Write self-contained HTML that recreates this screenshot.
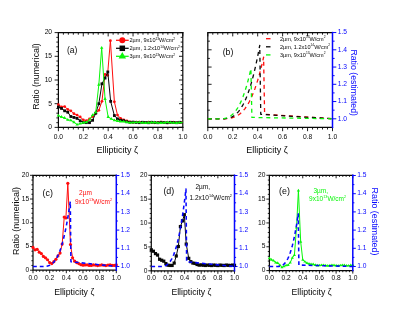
<!DOCTYPE html>
<html><head><meta charset="utf-8"><title>Figure</title>
<style>html,body{margin:0;padding:0;background:#fff;}body{width:415px;height:318px;overflow:hidden;font-family:"Liberation Sans",sans-serif;}svg{display:block;will-change:transform;}</style>
</head><body>
<svg width="415" height="318" viewBox="0 0 415 318" font-family="Liberation Sans, sans-serif">
<rect width="415" height="318" fill="#fff"/>
<g stroke="#080808" stroke-width="1.2" fill="none" stroke-linecap="square">
<path d="M58.4 127.4H182.8M58.4 32.6H182.8M58.4 32.6V127.4"/>
<path d="M182.8 32.6V127.4"/>
</g>
<path d="M58.40 127.4v3.8M58.40 32.6v3.8M63.38 127.4v2.1M63.38 32.6v2.1M68.35 127.4v2.1M68.35 32.6v2.1M73.33 127.4v2.1M73.33 32.6v2.1M78.30 127.4v2.1M78.30 32.6v2.1M83.28 127.4v3.8M83.28 32.6v3.8M88.26 127.4v2.1M88.26 32.6v2.1M93.23 127.4v2.1M93.23 32.6v2.1M98.21 127.4v2.1M98.21 32.6v2.1M103.18 127.4v2.1M103.18 32.6v2.1M108.16 127.4v3.8M108.16 32.6v3.8M113.14 127.4v2.1M113.14 32.6v2.1M118.11 127.4v2.1M118.11 32.6v2.1M123.09 127.4v2.1M123.09 32.6v2.1M128.06 127.4v2.1M128.06 32.6v2.1M133.04 127.4v3.8M133.04 32.6v3.8M138.02 127.4v2.1M138.02 32.6v2.1M142.99 127.4v2.1M142.99 32.6v2.1M147.97 127.4v2.1M147.97 32.6v2.1M152.94 127.4v2.1M152.94 32.6v2.1M157.92 127.4v3.8M157.92 32.6v3.8M162.90 127.4v2.1M162.90 32.6v2.1M167.87 127.4v2.1M167.87 32.6v2.1M172.85 127.4v2.1M172.85 32.6v2.1M177.82 127.4v2.1M177.82 32.6v2.1M182.80 127.4v3.8M182.80 32.6v3.8" stroke="#080808" stroke-width="0.9" fill="none"/>
<path d="M58.4 127.40h-3.8M182.8 127.40h-3.8M58.4 122.66h-2.1M182.8 122.66h-2.1M58.4 117.92h-2.1M182.8 117.92h-2.1M58.4 113.18h-2.1M182.8 113.18h-2.1M58.4 108.44h-2.1M182.8 108.44h-2.1M58.4 103.70h-3.8M182.8 103.70h-3.8M58.4 98.96h-2.1M182.8 98.96h-2.1M58.4 94.22h-2.1M182.8 94.22h-2.1M58.4 89.48h-2.1M182.8 89.48h-2.1M58.4 84.74h-2.1M182.8 84.74h-2.1M58.4 80.00h-3.8M182.8 80.00h-3.8M58.4 75.26h-2.1M182.8 75.26h-2.1M58.4 70.52h-2.1M182.8 70.52h-2.1M58.4 65.78h-2.1M182.8 65.78h-2.1M58.4 61.04h-2.1M182.8 61.04h-2.1M58.4 56.30h-3.8M182.8 56.30h-3.8M58.4 51.56h-2.1M182.8 51.56h-2.1M58.4 46.82h-2.1M182.8 46.82h-2.1M58.4 42.08h-2.1M182.8 42.08h-2.1M58.4 37.34h-2.1M182.8 37.34h-2.1M58.4 32.60h-3.8M182.8 32.60h-3.8" stroke="#080808" stroke-width="0.9" fill="none"/>
<text transform="translate(58.40,139.10) scale(0.92,1)" font-size="7.3" text-anchor="middle" fill="#080808">0.0</text>
<text transform="translate(83.28,139.10) scale(0.92,1)" font-size="7.3" text-anchor="middle" fill="#080808">0.2</text>
<text transform="translate(108.16,139.10) scale(0.92,1)" font-size="7.3" text-anchor="middle" fill="#080808">0.4</text>
<text transform="translate(133.04,139.10) scale(0.92,1)" font-size="7.3" text-anchor="middle" fill="#080808">0.6</text>
<text transform="translate(157.92,139.10) scale(0.92,1)" font-size="7.3" text-anchor="middle" fill="#080808">0.8</text>
<text transform="translate(182.80,139.10) scale(0.92,1)" font-size="7.3" text-anchor="middle" fill="#080808">1.0</text>
<text transform="translate(52.10,129.20) scale(0.92,1)" font-size="7.3" text-anchor="end" fill="#080808">0</text>
<text transform="translate(52.10,105.50) scale(0.92,1)" font-size="7.3" text-anchor="end" fill="#080808">5</text>
<text transform="translate(52.10,81.80) scale(0.92,1)" font-size="7.3" text-anchor="end" fill="#080808">10</text>
<text transform="translate(52.10,58.10) scale(0.92,1)" font-size="7.3" text-anchor="end" fill="#080808">15</text>
<text transform="translate(52.10,34.40) scale(0.92,1)" font-size="7.3" text-anchor="end" fill="#080808">20</text>
<clipPath id="ca"><rect x="55.4" y="32.6" width="127.0" height="97.80000000000001"/></clipPath><g clip-path="url(#ca)">
<path d="M58.40 104.65L61.51 107.02L64.62 106.54L67.73 109.39L70.84 110.81L73.95 113.65L77.06 115.08L80.17 116.97L83.28 119.82L86.39 120.76L89.50 118.87L92.61 116.50L95.72 113.18L98.83 110.34L101.94 101.33L105.05 74.31L107.54 75.26L110.40 40.66L114.38 101.80L117.49 115.08L120.60 118.39L123.71 119.82L126.82 120.80L129.93 121.86L133.04 122.41L136.15 122.10L139.26 122.08L142.37 122.62L145.48 122.61L148.59 122.13L151.70 122.29L154.81 122.74L157.92 122.47L161.03 122.09L164.14 122.46L167.25 122.75L170.36 122.30L173.47 122.13L176.58 122.62L179.69 122.66L182.80 122.17" stroke="#ff0c0c" stroke-width="1.0" fill="none" stroke-linejoin="round"/>
<circle cx="58.40" cy="104.65" r="1.4" fill="#ff0c0c"/>
<circle cx="61.51" cy="107.02" r="1.4" fill="#ff0c0c"/>
<circle cx="64.62" cy="106.54" r="1.4" fill="#ff0c0c"/>
<circle cx="67.73" cy="109.39" r="1.4" fill="#ff0c0c"/>
<circle cx="70.84" cy="110.81" r="1.4" fill="#ff0c0c"/>
<circle cx="73.95" cy="113.65" r="1.4" fill="#ff0c0c"/>
<circle cx="77.06" cy="115.08" r="1.4" fill="#ff0c0c"/>
<circle cx="80.17" cy="116.97" r="1.4" fill="#ff0c0c"/>
<circle cx="83.28" cy="119.82" r="1.4" fill="#ff0c0c"/>
<circle cx="86.39" cy="120.76" r="1.4" fill="#ff0c0c"/>
<circle cx="89.50" cy="118.87" r="1.4" fill="#ff0c0c"/>
<circle cx="92.61" cy="116.50" r="1.4" fill="#ff0c0c"/>
<circle cx="95.72" cy="113.18" r="1.4" fill="#ff0c0c"/>
<circle cx="98.83" cy="110.34" r="1.4" fill="#ff0c0c"/>
<circle cx="101.94" cy="101.33" r="1.4" fill="#ff0c0c"/>
<circle cx="105.05" cy="74.31" r="1.4" fill="#ff0c0c"/>
<circle cx="107.54" cy="75.26" r="1.4" fill="#ff0c0c"/>
<circle cx="110.40" cy="40.66" r="1.4" fill="#ff0c0c"/>
<circle cx="114.38" cy="101.80" r="1.4" fill="#ff0c0c"/>
<circle cx="117.49" cy="115.08" r="1.4" fill="#ff0c0c"/>
<circle cx="120.60" cy="118.39" r="1.4" fill="#ff0c0c"/>
<circle cx="123.71" cy="119.82" r="1.4" fill="#ff0c0c"/>
<circle cx="126.82" cy="120.80" r="1.4" fill="#ff0c0c"/>
<circle cx="129.93" cy="121.86" r="1.4" fill="#ff0c0c"/>
<circle cx="133.04" cy="122.41" r="1.4" fill="#ff0c0c"/>
<circle cx="136.15" cy="122.10" r="1.4" fill="#ff0c0c"/>
<circle cx="139.26" cy="122.08" r="1.4" fill="#ff0c0c"/>
<circle cx="142.37" cy="122.62" r="1.4" fill="#ff0c0c"/>
<circle cx="145.48" cy="122.61" r="1.4" fill="#ff0c0c"/>
<circle cx="148.59" cy="122.13" r="1.4" fill="#ff0c0c"/>
<circle cx="151.70" cy="122.29" r="1.4" fill="#ff0c0c"/>
<circle cx="154.81" cy="122.74" r="1.4" fill="#ff0c0c"/>
<circle cx="157.92" cy="122.47" r="1.4" fill="#ff0c0c"/>
<circle cx="161.03" cy="122.09" r="1.4" fill="#ff0c0c"/>
<circle cx="164.14" cy="122.46" r="1.4" fill="#ff0c0c"/>
<circle cx="167.25" cy="122.75" r="1.4" fill="#ff0c0c"/>
<circle cx="170.36" cy="122.30" r="1.4" fill="#ff0c0c"/>
<circle cx="173.47" cy="122.13" r="1.4" fill="#ff0c0c"/>
<circle cx="176.58" cy="122.62" r="1.4" fill="#ff0c0c"/>
<circle cx="179.69" cy="122.66" r="1.4" fill="#ff0c0c"/>
<circle cx="182.80" cy="122.17" r="1.4" fill="#ff0c0c"/>
<path d="M58.40 107.02L61.51 108.44L64.62 110.81L67.73 112.23L70.84 116.50L73.95 117.45L77.06 118.39L80.17 120.76L83.28 122.42L86.39 122.66L89.50 122.66L92.61 120.29L95.72 113.18L98.83 103.70L101.94 83.79L105.05 78.10L107.79 71.94L110.65 101.33L114.38 115.55L117.49 118.87L120.60 120.29L123.71 120.66L126.82 121.68L129.93 122.32L133.04 122.11L136.15 122.41L139.26 122.68L142.37 122.29L145.48 122.50L148.59 122.72L151.70 122.31L154.81 122.52L157.92 122.72L161.03 122.31L164.14 122.52L167.25 122.72L170.36 122.31L173.47 122.53L176.58 122.72L179.69 122.31L182.80 122.53" stroke="#080808" stroke-width="1.0" fill="none" stroke-linejoin="round"/>
<rect x="57.00" y="105.62" width="2.8" height="2.8" fill="#080808"/>
<rect x="60.11" y="107.04" width="2.8" height="2.8" fill="#080808"/>
<rect x="63.22" y="109.41" width="2.8" height="2.8" fill="#080808"/>
<rect x="66.33" y="110.83" width="2.8" height="2.8" fill="#080808"/>
<rect x="69.44" y="115.10" width="2.8" height="2.8" fill="#080808"/>
<rect x="72.55" y="116.05" width="2.8" height="2.8" fill="#080808"/>
<rect x="75.66" y="116.99" width="2.8" height="2.8" fill="#080808"/>
<rect x="78.77" y="119.36" width="2.8" height="2.8" fill="#080808"/>
<rect x="81.88" y="121.02" width="2.8" height="2.8" fill="#080808"/>
<rect x="84.99" y="121.26" width="2.8" height="2.8" fill="#080808"/>
<rect x="88.10" y="121.26" width="2.8" height="2.8" fill="#080808"/>
<rect x="91.21" y="118.89" width="2.8" height="2.8" fill="#080808"/>
<rect x="94.32" y="111.78" width="2.8" height="2.8" fill="#080808"/>
<rect x="97.43" y="102.30" width="2.8" height="2.8" fill="#080808"/>
<rect x="100.54" y="82.39" width="2.8" height="2.8" fill="#080808"/>
<rect x="103.65" y="76.70" width="2.8" height="2.8" fill="#080808"/>
<rect x="106.39" y="70.54" width="2.8" height="2.8" fill="#080808"/>
<rect x="109.25" y="99.93" width="2.8" height="2.8" fill="#080808"/>
<rect x="112.98" y="114.15" width="2.8" height="2.8" fill="#080808"/>
<rect x="116.09" y="117.47" width="2.8" height="2.8" fill="#080808"/>
<rect x="119.20" y="118.89" width="2.8" height="2.8" fill="#080808"/>
<rect x="122.31" y="119.26" width="2.8" height="2.8" fill="#080808"/>
<rect x="125.42" y="120.28" width="2.8" height="2.8" fill="#080808"/>
<rect x="128.53" y="120.92" width="2.8" height="2.8" fill="#080808"/>
<rect x="131.64" y="120.71" width="2.8" height="2.8" fill="#080808"/>
<rect x="134.75" y="121.01" width="2.8" height="2.8" fill="#080808"/>
<rect x="137.86" y="121.28" width="2.8" height="2.8" fill="#080808"/>
<rect x="140.97" y="120.89" width="2.8" height="2.8" fill="#080808"/>
<rect x="144.08" y="121.10" width="2.8" height="2.8" fill="#080808"/>
<rect x="147.19" y="121.32" width="2.8" height="2.8" fill="#080808"/>
<rect x="150.30" y="120.91" width="2.8" height="2.8" fill="#080808"/>
<rect x="153.41" y="121.12" width="2.8" height="2.8" fill="#080808"/>
<rect x="156.52" y="121.32" width="2.8" height="2.8" fill="#080808"/>
<rect x="159.63" y="120.91" width="2.8" height="2.8" fill="#080808"/>
<rect x="162.74" y="121.12" width="2.8" height="2.8" fill="#080808"/>
<rect x="165.85" y="121.32" width="2.8" height="2.8" fill="#080808"/>
<rect x="168.96" y="120.91" width="2.8" height="2.8" fill="#080808"/>
<rect x="172.07" y="121.13" width="2.8" height="2.8" fill="#080808"/>
<rect x="175.18" y="121.32" width="2.8" height="2.8" fill="#080808"/>
<rect x="178.29" y="120.91" width="2.8" height="2.8" fill="#080808"/>
<rect x="181.40" y="121.13" width="2.8" height="2.8" fill="#080808"/>
<path d="M58.40 115.55L61.51 116.97L64.62 117.92L67.73 119.82L70.84 120.29L73.95 122.19L77.06 124.56L80.17 123.61L83.28 122.66L86.39 122.19L89.50 119.82L92.61 115.08L95.72 112.23L98.83 84.74L101.69 47.77L105.05 98.96L108.16 116.97L111.27 118.87L114.38 120.29L117.49 121.00L120.60 121.48L123.71 121.55L126.82 122.24L129.93 122.69L133.04 122.63L136.15 122.36L139.26 122.39L142.37 122.74L145.48 122.93L148.59 122.70L151.70 122.40L154.81 122.47L157.92 122.82L161.03 122.93L164.14 122.65L167.25 122.38L170.36 122.53L173.47 122.87L176.58 122.90L179.69 122.58L182.80 122.38" stroke="#0af60a" stroke-width="1.0" fill="none" stroke-linejoin="round"/>
<path d="M58.40 113.66L60.08 116.53H56.72Z" fill="#0af60a"/>
<path d="M61.51 115.08L63.19 117.95H59.83Z" fill="#0af60a"/>
<path d="M64.62 116.03L66.30 118.90H62.94Z" fill="#0af60a"/>
<path d="M67.73 117.93L69.41 120.80H66.05Z" fill="#0af60a"/>
<path d="M70.84 118.40L72.52 121.27H69.16Z" fill="#0af60a"/>
<path d="M73.95 120.30L75.63 123.17H72.27Z" fill="#0af60a"/>
<path d="M77.06 122.67L78.74 125.54H75.38Z" fill="#0af60a"/>
<path d="M80.17 121.72L81.85 124.59H78.49Z" fill="#0af60a"/>
<path d="M83.28 120.77L84.96 123.64H81.60Z" fill="#0af60a"/>
<path d="M86.39 120.30L88.07 123.17H84.71Z" fill="#0af60a"/>
<path d="M89.50 117.93L91.18 120.80H87.82Z" fill="#0af60a"/>
<path d="M92.61 113.19L94.29 116.06H90.93Z" fill="#0af60a"/>
<path d="M95.72 110.34L97.40 113.21H94.04Z" fill="#0af60a"/>
<path d="M98.83 82.85L100.51 85.72H97.15Z" fill="#0af60a"/>
<path d="M101.69 45.88L103.37 48.75H100.01Z" fill="#0af60a"/>
<path d="M105.05 97.07L106.73 99.94H103.37Z" fill="#0af60a"/>
<path d="M108.16 115.08L109.84 117.95H106.48Z" fill="#0af60a"/>
<path d="M111.27 116.98L112.95 119.85H109.59Z" fill="#0af60a"/>
<path d="M114.38 118.40L116.06 121.27H112.70Z" fill="#0af60a"/>
<path d="M117.49 119.11L119.17 121.98H115.81Z" fill="#0af60a"/>
<path d="M120.60 119.59L122.28 122.46H118.92Z" fill="#0af60a"/>
<path d="M123.71 119.66L125.39 122.53H122.03Z" fill="#0af60a"/>
<path d="M126.82 120.35L128.50 123.22H125.14Z" fill="#0af60a"/>
<path d="M129.93 120.80L131.61 123.67H128.25Z" fill="#0af60a"/>
<path d="M133.04 120.74L134.72 123.61H131.36Z" fill="#0af60a"/>
<path d="M136.15 120.47L137.83 123.34H134.47Z" fill="#0af60a"/>
<path d="M139.26 120.50L140.94 123.37H137.58Z" fill="#0af60a"/>
<path d="M142.37 120.85L144.05 123.72H140.69Z" fill="#0af60a"/>
<path d="M145.48 121.04L147.16 123.91H143.80Z" fill="#0af60a"/>
<path d="M148.59 120.81L150.27 123.68H146.91Z" fill="#0af60a"/>
<path d="M151.70 120.51L153.38 123.38H150.02Z" fill="#0af60a"/>
<path d="M154.81 120.58L156.49 123.45H153.13Z" fill="#0af60a"/>
<path d="M157.92 120.93L159.60 123.80H156.24Z" fill="#0af60a"/>
<path d="M161.03 121.04L162.71 123.91H159.35Z" fill="#0af60a"/>
<path d="M164.14 120.76L165.82 123.63H162.46Z" fill="#0af60a"/>
<path d="M167.25 120.49L168.93 123.36H165.57Z" fill="#0af60a"/>
<path d="M170.36 120.64L172.04 123.51H168.68Z" fill="#0af60a"/>
<path d="M173.47 120.98L175.15 123.85H171.79Z" fill="#0af60a"/>
<path d="M176.58 121.01L178.26 123.88H174.90Z" fill="#0af60a"/>
<path d="M179.69 120.69L181.37 123.56H178.01Z" fill="#0af60a"/>
<path d="M182.80 120.49L184.48 123.36H181.12Z" fill="#0af60a"/>
</g>
<text x="67" y="53" font-size="8.5" fill="#080808">(a)</text>
<path d="M116 40.3H128.7" stroke="#ff0c0c" stroke-width="1.25"/>
<circle cx="122.30" cy="40.30" r="3.0" fill="#ff0c0c"/>
<text x="129.5" y="42.199999999999996" font-size="5.55" fill="#080808" text-anchor="start"><tspan>2µm, 9x10</tspan><tspan font-size="3.22" dy="-2.55">13</tspan><tspan dy="2.55" font-size="0.1">&#8203;</tspan><tspan>W/cm</tspan><tspan font-size="3.22" dy="-2.55">2</tspan><tspan dy="2.55" font-size="0.1">&#8203;</tspan></text>
<path d="M116 48.3H128.7" stroke="#080808" stroke-width="1.25"/>
<rect x="119.55" y="45.55" width="5.5" height="5.5" fill="#080808"/>
<text x="129.5" y="50.199999999999996" font-size="5.55" fill="#080808" text-anchor="start"><tspan>2µm, 1.2x10</tspan><tspan font-size="3.22" dy="-2.55">14</tspan><tspan dy="2.55" font-size="0.1">&#8203;</tspan><tspan>W/cm</tspan><tspan font-size="3.22" dy="-2.55">2</tspan><tspan dy="2.55" font-size="0.1">&#8203;</tspan></text>
<path d="M116 56.3H128.7" stroke="#0af60a" stroke-width="1.25"/>
<path d="M122.30 52.11L126.02 58.47H118.58Z" fill="#0af60a"/>
<text x="129.5" y="58.199999999999996" font-size="5.55" fill="#080808" text-anchor="start"><tspan>3µm, 9x10</tspan><tspan font-size="3.22" dy="-2.55">13</tspan><tspan dy="2.55" font-size="0.1">&#8203;</tspan><tspan>W/cm</tspan><tspan font-size="3.22" dy="-2.55">2</tspan><tspan dy="2.55" font-size="0.1">&#8203;</tspan></text>
<text x="117.2" y="152.9" font-size="9" text-anchor="middle" fill="#080808">Ellipticity ζ</text>
<text transform="translate(38.8,76.5) rotate(-90) scale(0.95,1)" font-size="9.2" text-anchor="middle" fill="#080808">Ratio (numerical)</text>
<g stroke="#080808" stroke-width="1.2" fill="none" stroke-linecap="square">
<path d="M207.8 127.4H332.5M207.8 32.6H332.5M207.8 32.6V127.4"/>
</g>
<path d="M207.80 127.4v3.8M207.80 32.6v3.8M212.79 127.4v2.1M212.79 32.6v2.1M217.78 127.4v2.1M217.78 32.6v2.1M222.76 127.4v2.1M222.76 32.6v2.1M227.75 127.4v2.1M227.75 32.6v2.1M232.74 127.4v3.8M232.74 32.6v3.8M237.73 127.4v2.1M237.73 32.6v2.1M242.72 127.4v2.1M242.72 32.6v2.1M247.70 127.4v2.1M247.70 32.6v2.1M252.69 127.4v2.1M252.69 32.6v2.1M257.68 127.4v3.8M257.68 32.6v3.8M262.67 127.4v2.1M262.67 32.6v2.1M267.66 127.4v2.1M267.66 32.6v2.1M272.64 127.4v2.1M272.64 32.6v2.1M277.63 127.4v2.1M277.63 32.6v2.1M282.62 127.4v3.8M282.62 32.6v3.8M287.61 127.4v2.1M287.61 32.6v2.1M292.60 127.4v2.1M292.60 32.6v2.1M297.58 127.4v2.1M297.58 32.6v2.1M302.57 127.4v2.1M302.57 32.6v2.1M307.56 127.4v3.8M307.56 32.6v3.8M312.55 127.4v2.1M312.55 32.6v2.1M317.54 127.4v2.1M317.54 32.6v2.1M322.52 127.4v2.1M322.52 32.6v2.1M327.51 127.4v2.1M327.51 32.6v2.1M332.50 127.4v3.8M332.50 32.6v3.8" stroke="#080808" stroke-width="0.9" fill="none"/>
<path d="M207.8 118.80h3.8M207.8 110.17h2.1M207.8 101.55h3.8M207.8 92.92h2.1M207.8 84.30h3.8M207.8 75.67h2.1M207.8 67.05h3.8M207.8 58.42h2.1M207.8 49.80h3.8M207.8 41.17h2.1M207.8 32.55h3.8" stroke="#080808" stroke-width="0.9" fill="none"/>
<text transform="translate(207.80,139.10) scale(0.92,1)" font-size="7.3" text-anchor="middle" fill="#080808">0.0</text>
<text transform="translate(232.74,139.10) scale(0.92,1)" font-size="7.3" text-anchor="middle" fill="#080808">0.2</text>
<text transform="translate(257.68,139.10) scale(0.92,1)" font-size="7.3" text-anchor="middle" fill="#080808">0.4</text>
<text transform="translate(282.62,139.10) scale(0.92,1)" font-size="7.3" text-anchor="middle" fill="#080808">0.6</text>
<text transform="translate(307.56,139.10) scale(0.92,1)" font-size="7.3" text-anchor="middle" fill="#080808">0.8</text>
<text transform="translate(332.50,139.10) scale(0.92,1)" font-size="7.3" text-anchor="middle" fill="#080808">1.0</text>
<path d="M332.5 118.80h3.8M332.5 110.17h2.1M332.5 101.55h3.8M332.5 92.92h2.1M332.5 84.30h3.8M332.5 75.67h2.1M332.5 67.05h3.8M332.5 58.42h2.1M332.5 49.80h3.8M332.5 41.17h2.1M332.5 32.55h3.8" stroke="#0606ff" stroke-width="1" fill="none"/>
<text transform="translate(337.70,120.60) scale(0.92,1)" font-size="7.3" fill="#0606ff">1.0</text>
<text transform="translate(337.70,103.35) scale(0.92,1)" font-size="7.3" fill="#0606ff">1.1</text>
<text transform="translate(337.70,86.10) scale(0.92,1)" font-size="7.3" fill="#0606ff">1.2</text>
<text transform="translate(337.70,68.85) scale(0.92,1)" font-size="7.3" fill="#0606ff">1.3</text>
<text transform="translate(337.70,51.60) scale(0.92,1)" font-size="7.3" fill="#0606ff">1.4</text>
<text transform="translate(337.70,34.35) scale(0.92,1)" font-size="7.3" fill="#0606ff">1.5</text>
<path d="M207.80 118.80L220.27 118.80L221.71 118.80L223.16 118.79L224.60 118.76L226.05 118.70L227.49 118.60L228.94 118.44L230.38 118.22L231.83 117.90L233.27 117.49L234.71 116.97L236.16 116.32L237.60 115.52L239.05 114.56L240.49 113.43L241.94 112.10L243.38 110.56L244.83 108.80L246.27 106.79L247.71 104.52L249.16 101.97L250.60 99.13L252.05 95.97L253.49 92.49L254.94 88.65L256.38 84.44L257.83 79.84L259.27 74.84L260.71 69.42L262.16 63.55L263.60 57.22L264.60 114.31L332.50 118.80" stroke="#ff0c0c" stroke-width="1.3" fill="none" stroke-linejoin="round" stroke-dasharray="4 3.7"/>
<path d="M207.80 118.80L220.27 118.80L221.59 118.80L222.90 118.78L224.22 118.73L225.53 118.63L226.85 118.46L228.17 118.21L229.48 117.87L230.80 117.41L232.11 116.82L233.43 116.08L234.75 115.18L236.06 114.10L237.38 112.82L238.69 111.33L240.01 109.61L241.33 107.65L242.64 105.43L243.96 102.93L245.27 100.13L246.59 97.03L247.91 93.59L249.22 89.82L250.54 85.69L251.85 81.18L253.17 76.27L254.49 70.96L255.80 65.23L257.12 59.05L258.43 52.42L259.75 45.32L260.75 114.31L332.50 118.80" stroke="#080808" stroke-width="1.3" fill="none" stroke-linejoin="round" stroke-dasharray="4 3.7"/>
<path d="M207.80 118.80L217.78 118.80L218.88 118.80L219.98 118.79L221.09 118.75L222.19 118.68L223.30 118.57L224.40 118.40L225.50 118.16L226.61 117.85L227.71 117.45L228.82 116.95L229.92 116.33L231.02 115.60L232.13 114.73L233.23 113.72L234.34 112.55L235.44 111.21L236.54 109.70L237.65 107.99L238.75 106.09L239.86 103.98L240.96 101.64L242.06 99.07L243.17 96.26L244.27 93.19L245.38 89.85L246.48 86.24L247.58 82.33L248.69 78.13L249.79 73.61L250.90 68.78L251.89 117.42L332.50 118.80" stroke="#0af60a" stroke-width="1.3" fill="none" stroke-linejoin="round" stroke-dasharray="4 3.7"/>
<path d="M332.5 32.6V127.4" stroke="#0606ff" stroke-width="1.5" fill="none" stroke-linecap="square"/>
<text x="222.7" y="55.3" font-size="8.7" fill="#080808">(b)</text>
<path d="M266 38.7H270.5" stroke="#ff0c0c" stroke-width="1.3"/>
<text x="279.9" y="40.6" font-size="5.55" fill="#080808" text-anchor="start"><tspan>2µm, 9x10</tspan><tspan font-size="3.22" dy="-2.55">13</tspan><tspan dy="2.55" font-size="0.1">&#8203;</tspan><tspan>W/cm</tspan><tspan font-size="3.22" dy="-2.55">2</tspan><tspan dy="2.55" font-size="0.1">&#8203;</tspan></text>
<path d="M266 46.800000000000004H270.5" stroke="#080808" stroke-width="1.3"/>
<text x="279.9" y="48.7" font-size="5.55" fill="#080808" text-anchor="start"><tspan>2µm, 1.2x10</tspan><tspan font-size="3.22" dy="-2.55">14</tspan><tspan dy="2.55" font-size="0.1">&#8203;</tspan><tspan>W/cm</tspan><tspan font-size="3.22" dy="-2.55">2</tspan><tspan dy="2.55" font-size="0.1">&#8203;</tspan></text>
<path d="M266 54.900000000000006H270.5" stroke="#0af60a" stroke-width="1.3"/>
<text x="279.9" y="56.800000000000004" font-size="5.55" fill="#080808" text-anchor="start"><tspan>3µm, 9x10</tspan><tspan font-size="3.22" dy="-2.55">13</tspan><tspan dy="2.55" font-size="0.1">&#8203;</tspan><tspan>W/cm</tspan><tspan font-size="3.22" dy="-2.55">2</tspan><tspan dy="2.55" font-size="0.1">&#8203;</tspan></text>
<text x="267" y="152.9" font-size="9" text-anchor="middle" fill="#080808">Ellipticity ζ</text>
<text transform="translate(351.3,82.7) rotate(90) scale(0.95,1)" font-size="9.2" text-anchor="middle" fill="#0606ff">Ratio (estimated)</text>
<g stroke="#080808" stroke-width="1.2" fill="none" stroke-linecap="square">
<path d="M33.0 270.2H116.3M33.0 175.3H116.3M33.0 175.3V270.2"/>
</g>
<path d="M33.00 270.2v3.0M33.00 175.3v3.0M36.33 270.2v1.6M36.33 175.3v1.6M39.66 270.2v1.6M39.66 175.3v1.6M43.00 270.2v1.6M43.00 175.3v1.6M46.33 270.2v1.6M46.33 175.3v1.6M49.66 270.2v3.0M49.66 175.3v3.0M52.99 270.2v1.6M52.99 175.3v1.6M56.32 270.2v1.6M56.32 175.3v1.6M59.66 270.2v1.6M59.66 175.3v1.6M62.99 270.2v1.6M62.99 175.3v1.6M66.32 270.2v3.0M66.32 175.3v3.0M69.65 270.2v1.6M69.65 175.3v1.6M72.98 270.2v1.6M72.98 175.3v1.6M76.32 270.2v1.6M76.32 175.3v1.6M79.65 270.2v1.6M79.65 175.3v1.6M82.98 270.2v3.0M82.98 175.3v3.0M86.31 270.2v1.6M86.31 175.3v1.6M89.64 270.2v1.6M89.64 175.3v1.6M92.98 270.2v1.6M92.98 175.3v1.6M96.31 270.2v1.6M96.31 175.3v1.6M99.64 270.2v3.0M99.64 175.3v3.0M102.97 270.2v1.6M102.97 175.3v1.6M106.30 270.2v1.6M106.30 175.3v1.6M109.64 270.2v1.6M109.64 175.3v1.6M112.97 270.2v1.6M112.97 175.3v1.6M116.30 270.2v3.0M116.30 175.3v3.0" stroke="#080808" stroke-width="0.9" fill="none"/>
<path d="M33.0 270.20h-3.0M33.0 265.45h-1.6M33.0 260.71h-1.6M33.0 255.97h-1.6M33.0 251.22h-1.6M33.0 246.47h-3.0M33.0 241.73h-1.6M33.0 236.99h-1.6M33.0 232.24h-1.6M33.0 227.50h-1.6M33.0 222.75h-3.0M33.0 218.00h-1.6M33.0 213.26h-1.6M33.0 208.51h-1.6M33.0 203.77h-1.6M33.0 199.03h-3.0M33.0 194.28h-1.6M33.0 189.53h-1.6M33.0 184.79h-1.6M33.0 180.05h-1.6M33.0 175.30h-3.0" stroke="#080808" stroke-width="0.9" fill="none"/>
<text transform="translate(33.00,280.40) scale(0.9,1)" font-size="7.4" text-anchor="middle" fill="#080808">0.0</text>
<text transform="translate(49.66,280.40) scale(0.9,1)" font-size="7.4" text-anchor="middle" fill="#080808">0.2</text>
<text transform="translate(66.32,280.40) scale(0.9,1)" font-size="7.4" text-anchor="middle" fill="#080808">0.4</text>
<text transform="translate(82.98,280.40) scale(0.9,1)" font-size="7.4" text-anchor="middle" fill="#080808">0.6</text>
<text transform="translate(99.64,280.40) scale(0.9,1)" font-size="7.4" text-anchor="middle" fill="#080808">0.8</text>
<text transform="translate(116.30,280.40) scale(0.9,1)" font-size="7.4" text-anchor="middle" fill="#080808">1.0</text>
<text transform="translate(29.10,271.90) scale(0.9,1)" font-size="7.4" text-anchor="end" fill="#080808">0</text>
<text transform="translate(29.10,248.17) scale(0.9,1)" font-size="7.4" text-anchor="end" fill="#080808">5</text>
<text transform="translate(29.10,224.45) scale(0.9,1)" font-size="7.4" text-anchor="end" fill="#080808">10</text>
<text transform="translate(29.10,200.72) scale(0.9,1)" font-size="7.4" text-anchor="end" fill="#080808">15</text>
<text transform="translate(29.10,177.00) scale(0.9,1)" font-size="7.4" text-anchor="end" fill="#080808">20</text>
<path d="M116.3 266.50h3.0M116.3 257.40h1.6M116.3 248.30h3.0M116.3 239.20h1.6M116.3 230.10h3.0M116.3 221.00h1.6M116.3 211.90h3.0M116.3 202.80h1.6M116.3 193.70h3.0M116.3 184.60h1.6M116.3 175.50h3.0" stroke="#0606ff" stroke-width="1" fill="none"/>
<text transform="translate(120.70,268.20) scale(0.9,1)" font-size="7.4" fill="#0606ff">1.0</text>
<text transform="translate(120.70,250.00) scale(0.9,1)" font-size="7.4" fill="#0606ff">1.1</text>
<text transform="translate(120.70,231.80) scale(0.9,1)" font-size="7.4" fill="#0606ff">1.2</text>
<text transform="translate(120.70,213.60) scale(0.9,1)" font-size="7.4" fill="#0606ff">1.3</text>
<text transform="translate(120.70,195.40) scale(0.9,1)" font-size="7.4" fill="#0606ff">1.4</text>
<text transform="translate(120.70,177.20) scale(0.9,1)" font-size="7.4" fill="#0606ff">1.5</text>
<path d="M33.00 247.42L35.08 249.80L37.16 249.32L39.25 252.17L41.33 253.59L43.41 256.44L45.49 257.86L47.58 259.76L49.66 262.61L51.74 263.56L53.83 261.66L55.91 259.29L57.99 255.97L60.07 253.12L62.16 244.10L64.24 217.06L65.90 218.00L67.82 183.37L70.48 244.58L72.57 257.86L74.65 261.18L76.73 262.61L78.81 263.59L80.90 264.66L82.98 265.21L85.06 264.89L87.15 264.87L89.23 265.41L91.31 265.40L93.39 264.92L95.47 265.08L97.56 265.53L99.64 265.27L101.72 264.89L103.80 265.25L105.89 265.54L107.97 265.10L110.05 264.93L112.13 265.41L114.22 265.46L116.30 264.96" stroke="#ff0c0c" stroke-width="1.0" fill="none" stroke-linejoin="round"/>
<circle cx="33.00" cy="247.42" r="1.6" fill="#ff0c0c"/>
<circle cx="35.08" cy="249.80" r="1.6" fill="#ff0c0c"/>
<circle cx="37.16" cy="249.32" r="1.6" fill="#ff0c0c"/>
<circle cx="39.25" cy="252.17" r="1.6" fill="#ff0c0c"/>
<circle cx="41.33" cy="253.59" r="1.6" fill="#ff0c0c"/>
<circle cx="43.41" cy="256.44" r="1.6" fill="#ff0c0c"/>
<circle cx="45.49" cy="257.86" r="1.6" fill="#ff0c0c"/>
<circle cx="47.58" cy="259.76" r="1.6" fill="#ff0c0c"/>
<circle cx="49.66" cy="262.61" r="1.6" fill="#ff0c0c"/>
<circle cx="51.74" cy="263.56" r="1.6" fill="#ff0c0c"/>
<circle cx="53.83" cy="261.66" r="1.6" fill="#ff0c0c"/>
<circle cx="55.91" cy="259.29" r="1.6" fill="#ff0c0c"/>
<circle cx="57.99" cy="255.97" r="1.6" fill="#ff0c0c"/>
<circle cx="60.07" cy="253.12" r="1.6" fill="#ff0c0c"/>
<circle cx="62.16" cy="244.10" r="1.6" fill="#ff0c0c"/>
<circle cx="64.24" cy="217.06" r="1.6" fill="#ff0c0c"/>
<circle cx="65.90" cy="218.00" r="1.6" fill="#ff0c0c"/>
<circle cx="67.82" cy="183.37" r="1.6" fill="#ff0c0c"/>
<circle cx="70.48" cy="244.58" r="1.6" fill="#ff0c0c"/>
<circle cx="72.57" cy="257.86" r="1.6" fill="#ff0c0c"/>
<circle cx="74.65" cy="261.18" r="1.6" fill="#ff0c0c"/>
<circle cx="76.73" cy="262.61" r="1.6" fill="#ff0c0c"/>
<circle cx="78.81" cy="263.59" r="1.6" fill="#ff0c0c"/>
<circle cx="80.90" cy="264.66" r="1.6" fill="#ff0c0c"/>
<circle cx="82.98" cy="265.21" r="1.6" fill="#ff0c0c"/>
<circle cx="85.06" cy="264.89" r="1.6" fill="#ff0c0c"/>
<circle cx="87.15" cy="264.87" r="1.6" fill="#ff0c0c"/>
<circle cx="89.23" cy="265.41" r="1.6" fill="#ff0c0c"/>
<circle cx="91.31" cy="265.40" r="1.6" fill="#ff0c0c"/>
<circle cx="93.39" cy="264.92" r="1.6" fill="#ff0c0c"/>
<circle cx="95.47" cy="265.08" r="1.6" fill="#ff0c0c"/>
<circle cx="97.56" cy="265.53" r="1.6" fill="#ff0c0c"/>
<circle cx="99.64" cy="265.27" r="1.6" fill="#ff0c0c"/>
<circle cx="101.72" cy="264.89" r="1.6" fill="#ff0c0c"/>
<circle cx="103.80" cy="265.25" r="1.6" fill="#ff0c0c"/>
<circle cx="105.89" cy="265.54" r="1.6" fill="#ff0c0c"/>
<circle cx="107.97" cy="265.10" r="1.6" fill="#ff0c0c"/>
<circle cx="110.05" cy="264.93" r="1.6" fill="#ff0c0c"/>
<circle cx="112.13" cy="265.41" r="1.6" fill="#ff0c0c"/>
<circle cx="114.22" cy="265.46" r="1.6" fill="#ff0c0c"/>
<circle cx="116.30" cy="264.96" r="1.6" fill="#ff0c0c"/>
<path d="M33.00 266.50L41.33 266.50L42.29 266.50L43.26 266.49L44.22 266.46L45.19 266.40L46.15 266.29L47.12 266.12L48.08 265.88L49.05 265.55L50.01 265.12L50.98 264.57L51.94 263.88L52.91 263.04L53.87 262.03L54.84 260.83L55.80 259.43L56.77 257.81L57.73 255.95L58.70 253.83L59.66 251.44L60.63 248.75L61.59 245.75L62.56 242.42L63.52 238.74L64.49 234.69L65.45 230.25L66.42 225.40L67.38 220.12L68.35 214.40L69.31 208.21L70.28 201.53L70.94 261.77L116.30 266.50" stroke="#0606ff" stroke-width="1.55" fill="none" stroke-linejoin="round" stroke-dasharray="3.8 3"/>
<path d="M116.3 175.3V270.2" stroke="#0606ff" stroke-width="1.5" fill="none" stroke-linecap="square"/>
<text x="42.6" y="196.4" font-size="8.9" fill="#080808">(c)</text>
<text x="85.5" y="194.6" font-size="6.5" text-anchor="middle" fill="#ff0c0c">2µm</text>
<text x="93.5" y="204.3" font-size="6.5" fill="#ff0c0c" text-anchor="middle"><tspan>9x10</tspan><tspan font-size="3.77" dy="-2.99">13</tspan><tspan dy="2.99" font-size="0.1">&#8203;</tspan><tspan>W/cm</tspan><tspan font-size="3.77" dy="-2.99">2</tspan><tspan dy="2.99" font-size="0.1">&#8203;</tspan></text>
<text x="74.2" y="294.6" font-size="8.7" text-anchor="middle" fill="#080808">Ellipticity ζ</text>
<g stroke="#080808" stroke-width="1.2" fill="none" stroke-linecap="square">
<path d="M151.3 270.8H234.5M151.3 175.3H234.5M151.3 175.3V270.8"/>
</g>
<path d="M151.30 270.8v3.0M151.30 175.3v3.0M154.63 270.8v1.6M154.63 175.3v1.6M157.96 270.8v1.6M157.96 175.3v1.6M161.28 270.8v1.6M161.28 175.3v1.6M164.61 270.8v1.6M164.61 175.3v1.6M167.94 270.8v3.0M167.94 175.3v3.0M171.27 270.8v1.6M171.27 175.3v1.6M174.60 270.8v1.6M174.60 175.3v1.6M177.92 270.8v1.6M177.92 175.3v1.6M181.25 270.8v1.6M181.25 175.3v1.6M184.58 270.8v3.0M184.58 175.3v3.0M187.91 270.8v1.6M187.91 175.3v1.6M191.24 270.8v1.6M191.24 175.3v1.6M194.56 270.8v1.6M194.56 175.3v1.6M197.89 270.8v1.6M197.89 175.3v1.6M201.22 270.8v3.0M201.22 175.3v3.0M204.55 270.8v1.6M204.55 175.3v1.6M207.88 270.8v1.6M207.88 175.3v1.6M211.20 270.8v1.6M211.20 175.3v1.6M214.53 270.8v1.6M214.53 175.3v1.6M217.86 270.8v3.0M217.86 175.3v3.0M221.19 270.8v1.6M221.19 175.3v1.6M224.52 270.8v1.6M224.52 175.3v1.6M227.84 270.8v1.6M227.84 175.3v1.6M231.17 270.8v1.6M231.17 175.3v1.6M234.50 270.8v3.0M234.50 175.3v3.0" stroke="#080808" stroke-width="0.9" fill="none"/>
<path d="M151.3 270.80h-3.0M151.3 266.03h-1.6M151.3 261.25h-1.6M151.3 256.48h-1.6M151.3 251.70h-1.6M151.3 246.93h-3.0M151.3 242.15h-1.6M151.3 237.38h-1.6M151.3 232.60h-1.6M151.3 227.83h-1.6M151.3 223.05h-3.0M151.3 218.28h-1.6M151.3 213.50h-1.6M151.3 208.73h-1.6M151.3 203.95h-1.6M151.3 199.18h-3.0M151.3 194.40h-1.6M151.3 189.62h-1.6M151.3 184.85h-1.6M151.3 180.08h-1.6M151.3 175.30h-3.0" stroke="#080808" stroke-width="0.9" fill="none"/>
<text transform="translate(151.30,280.40) scale(0.9,1)" font-size="7.4" text-anchor="middle" fill="#080808">0.0</text>
<text transform="translate(167.94,280.40) scale(0.9,1)" font-size="7.4" text-anchor="middle" fill="#080808">0.2</text>
<text transform="translate(184.58,280.40) scale(0.9,1)" font-size="7.4" text-anchor="middle" fill="#080808">0.4</text>
<text transform="translate(201.22,280.40) scale(0.9,1)" font-size="7.4" text-anchor="middle" fill="#080808">0.6</text>
<text transform="translate(217.86,280.40) scale(0.9,1)" font-size="7.4" text-anchor="middle" fill="#080808">0.8</text>
<text transform="translate(234.50,280.40) scale(0.9,1)" font-size="7.4" text-anchor="middle" fill="#080808">1.0</text>
<text transform="translate(147.40,272.50) scale(0.9,1)" font-size="7.4" text-anchor="end" fill="#080808">0</text>
<text transform="translate(147.40,248.62) scale(0.9,1)" font-size="7.4" text-anchor="end" fill="#080808">5</text>
<text transform="translate(147.40,224.75) scale(0.9,1)" font-size="7.4" text-anchor="end" fill="#080808">10</text>
<text transform="translate(147.40,200.88) scale(0.9,1)" font-size="7.4" text-anchor="end" fill="#080808">15</text>
<text transform="translate(147.40,177.00) scale(0.9,1)" font-size="7.4" text-anchor="end" fill="#080808">20</text>
<path d="M234.5 266.50h3.0M234.5 257.40h1.6M234.5 248.30h3.0M234.5 239.20h1.6M234.5 230.10h3.0M234.5 221.00h1.6M234.5 211.90h3.0M234.5 202.80h1.6M234.5 193.70h3.0M234.5 184.60h1.6M234.5 175.50h3.0" stroke="#0606ff" stroke-width="1" fill="none"/>
<text transform="translate(238.90,268.20) scale(0.9,1)" font-size="7.4" fill="#0606ff">1.0</text>
<text transform="translate(238.90,250.00) scale(0.9,1)" font-size="7.4" fill="#0606ff">1.1</text>
<text transform="translate(238.90,231.80) scale(0.9,1)" font-size="7.4" fill="#0606ff">1.2</text>
<text transform="translate(238.90,213.60) scale(0.9,1)" font-size="7.4" fill="#0606ff">1.3</text>
<text transform="translate(238.90,195.40) scale(0.9,1)" font-size="7.4" fill="#0606ff">1.4</text>
<text transform="translate(238.90,177.20) scale(0.9,1)" font-size="7.4" fill="#0606ff">1.5</text>
<path d="M151.30 249.80L153.38 251.22L155.46 253.59L157.54 255.02L159.62 259.29L161.70 260.24L163.78 261.18L165.86 263.56L167.94 265.22L170.02 265.45L172.10 265.45L174.18 263.08L176.26 255.97L178.34 246.47L180.42 226.55L182.50 220.85L184.33 214.68L186.24 244.10L188.74 258.34L190.82 261.66L192.90 263.08L194.98 263.45L197.06 264.48L199.14 265.11L201.22 264.91L203.30 265.21L205.38 265.47L207.46 265.08L209.54 265.30L211.62 265.51L213.70 265.10L215.78 265.31L217.86 265.52L219.94 265.10L222.02 265.32L224.10 265.51L226.18 265.10L228.26 265.32L230.34 265.51L232.42 265.10L234.50 265.33" stroke="#080808" stroke-width="1.0" fill="none" stroke-linejoin="round"/>
<rect x="149.70" y="248.20" width="3.2" height="3.2" fill="#080808"/>
<rect x="151.78" y="249.62" width="3.2" height="3.2" fill="#080808"/>
<rect x="153.86" y="251.99" width="3.2" height="3.2" fill="#080808"/>
<rect x="155.94" y="253.42" width="3.2" height="3.2" fill="#080808"/>
<rect x="158.02" y="257.69" width="3.2" height="3.2" fill="#080808"/>
<rect x="160.10" y="258.64" width="3.2" height="3.2" fill="#080808"/>
<rect x="162.18" y="259.58" width="3.2" height="3.2" fill="#080808"/>
<rect x="164.26" y="261.96" width="3.2" height="3.2" fill="#080808"/>
<rect x="166.34" y="263.62" width="3.2" height="3.2" fill="#080808"/>
<rect x="168.42" y="263.85" width="3.2" height="3.2" fill="#080808"/>
<rect x="170.50" y="263.85" width="3.2" height="3.2" fill="#080808"/>
<rect x="172.58" y="261.48" width="3.2" height="3.2" fill="#080808"/>
<rect x="174.66" y="254.37" width="3.2" height="3.2" fill="#080808"/>
<rect x="176.74" y="244.88" width="3.2" height="3.2" fill="#080808"/>
<rect x="178.82" y="224.95" width="3.2" height="3.2" fill="#080808"/>
<rect x="180.90" y="219.25" width="3.2" height="3.2" fill="#080808"/>
<rect x="182.73" y="213.08" width="3.2" height="3.2" fill="#080808"/>
<rect x="184.64" y="242.50" width="3.2" height="3.2" fill="#080808"/>
<rect x="187.14" y="256.74" width="3.2" height="3.2" fill="#080808"/>
<rect x="189.22" y="260.06" width="3.2" height="3.2" fill="#080808"/>
<rect x="191.30" y="261.48" width="3.2" height="3.2" fill="#080808"/>
<rect x="193.38" y="261.85" width="3.2" height="3.2" fill="#080808"/>
<rect x="195.46" y="262.88" width="3.2" height="3.2" fill="#080808"/>
<rect x="197.54" y="263.51" width="3.2" height="3.2" fill="#080808"/>
<rect x="199.62" y="263.31" width="3.2" height="3.2" fill="#080808"/>
<rect x="201.70" y="263.61" width="3.2" height="3.2" fill="#080808"/>
<rect x="203.78" y="263.87" width="3.2" height="3.2" fill="#080808"/>
<rect x="205.86" y="263.48" width="3.2" height="3.2" fill="#080808"/>
<rect x="207.94" y="263.70" width="3.2" height="3.2" fill="#080808"/>
<rect x="210.02" y="263.91" width="3.2" height="3.2" fill="#080808"/>
<rect x="212.10" y="263.50" width="3.2" height="3.2" fill="#080808"/>
<rect x="214.18" y="263.71" width="3.2" height="3.2" fill="#080808"/>
<rect x="216.26" y="263.92" width="3.2" height="3.2" fill="#080808"/>
<rect x="218.34" y="263.50" width="3.2" height="3.2" fill="#080808"/>
<rect x="220.42" y="263.72" width="3.2" height="3.2" fill="#080808"/>
<rect x="222.50" y="263.91" width="3.2" height="3.2" fill="#080808"/>
<rect x="224.58" y="263.50" width="3.2" height="3.2" fill="#080808"/>
<rect x="226.66" y="263.72" width="3.2" height="3.2" fill="#080808"/>
<rect x="228.74" y="263.91" width="3.2" height="3.2" fill="#080808"/>
<rect x="230.82" y="263.50" width="3.2" height="3.2" fill="#080808"/>
<rect x="232.90" y="263.73" width="3.2" height="3.2" fill="#080808"/>
<path d="M151.30 266.50L159.62 266.50L160.50 266.50L161.38 266.48L162.25 266.42L163.13 266.32L164.01 266.14L164.89 265.88L165.77 265.52L166.64 265.03L167.52 264.41L168.40 263.63L169.28 262.68L170.16 261.54L171.03 260.19L171.91 258.62L172.79 256.81L173.67 254.74L174.55 252.39L175.42 249.75L176.30 246.80L177.18 243.53L178.06 239.91L178.94 235.92L179.81 231.56L180.69 226.80L181.57 221.63L182.45 216.03L183.33 209.98L184.21 203.46L185.08 196.47L185.96 188.97L186.63 261.77L234.50 266.50" stroke="#0606ff" stroke-width="1.55" fill="none" stroke-linejoin="round" stroke-dasharray="3.8 3"/>
<path d="M234.5 175.3V270.8" stroke="#0606ff" stroke-width="1.5" fill="none" stroke-linecap="square"/>
<text x="163.4" y="194.4" font-size="8.9" fill="#080808">(d)</text>
<text x="202.7" y="189.3" font-size="6.5" text-anchor="middle" fill="#080808">2µm,</text>
<text x="210.7" y="199.5" font-size="6.5" fill="#080808" text-anchor="middle"><tspan>1.2x10</tspan><tspan font-size="3.77" dy="-2.99">14</tspan><tspan dy="2.99" font-size="0.1">&#8203;</tspan><tspan>W/cm</tspan><tspan font-size="3.77" dy="-2.99">2</tspan><tspan dy="2.99" font-size="0.1">&#8203;</tspan></text>
<text x="191.4" y="294.6" font-size="8.7" text-anchor="middle" fill="#080808">Ellipticity ζ</text>
<g stroke="#080808" stroke-width="1.2" fill="none" stroke-linecap="square">
<path d="M269.4 270.59999999999997H352.8M269.4 175.3H352.8M269.4 175.3V270.59999999999997"/>
</g>
<path d="M269.40 270.59999999999997v3.0M269.40 175.3v3.0M272.74 270.59999999999997v1.6M272.74 175.3v1.6M276.07 270.59999999999997v1.6M276.07 175.3v1.6M279.41 270.59999999999997v1.6M279.41 175.3v1.6M282.74 270.59999999999997v1.6M282.74 175.3v1.6M286.08 270.59999999999997v3.0M286.08 175.3v3.0M289.42 270.59999999999997v1.6M289.42 175.3v1.6M292.75 270.59999999999997v1.6M292.75 175.3v1.6M296.09 270.59999999999997v1.6M296.09 175.3v1.6M299.42 270.59999999999997v1.6M299.42 175.3v1.6M302.76 270.59999999999997v3.0M302.76 175.3v3.0M306.10 270.59999999999997v1.6M306.10 175.3v1.6M309.43 270.59999999999997v1.6M309.43 175.3v1.6M312.77 270.59999999999997v1.6M312.77 175.3v1.6M316.10 270.59999999999997v1.6M316.10 175.3v1.6M319.44 270.59999999999997v3.0M319.44 175.3v3.0M322.78 270.59999999999997v1.6M322.78 175.3v1.6M326.11 270.59999999999997v1.6M326.11 175.3v1.6M329.45 270.59999999999997v1.6M329.45 175.3v1.6M332.78 270.59999999999997v1.6M332.78 175.3v1.6M336.12 270.59999999999997v3.0M336.12 175.3v3.0M339.46 270.59999999999997v1.6M339.46 175.3v1.6M342.79 270.59999999999997v1.6M342.79 175.3v1.6M346.13 270.59999999999997v1.6M346.13 175.3v1.6M349.46 270.59999999999997v1.6M349.46 175.3v1.6M352.80 270.59999999999997v3.0M352.80 175.3v3.0" stroke="#080808" stroke-width="0.9" fill="none"/>
<path d="M269.4 270.60h-3.0M269.4 265.83h-1.6M269.4 261.07h-1.6M269.4 256.30h-1.6M269.4 251.54h-1.6M269.4 246.77h-3.0M269.4 242.01h-1.6M269.4 237.24h-1.6M269.4 232.48h-1.6M269.4 227.71h-1.6M269.4 222.95h-3.0M269.4 218.19h-1.6M269.4 213.42h-1.6M269.4 208.66h-1.6M269.4 203.89h-1.6M269.4 199.12h-3.0M269.4 194.36h-1.6M269.4 189.59h-1.6M269.4 184.83h-1.6M269.4 180.06h-1.6M269.4 175.30h-3.0" stroke="#080808" stroke-width="0.9" fill="none"/>
<text transform="translate(269.40,280.40) scale(0.9,1)" font-size="7.4" text-anchor="middle" fill="#080808">0.0</text>
<text transform="translate(286.08,280.40) scale(0.9,1)" font-size="7.4" text-anchor="middle" fill="#080808">0.2</text>
<text transform="translate(302.76,280.40) scale(0.9,1)" font-size="7.4" text-anchor="middle" fill="#080808">0.4</text>
<text transform="translate(319.44,280.40) scale(0.9,1)" font-size="7.4" text-anchor="middle" fill="#080808">0.6</text>
<text transform="translate(336.12,280.40) scale(0.9,1)" font-size="7.4" text-anchor="middle" fill="#080808">0.8</text>
<text transform="translate(352.80,280.40) scale(0.9,1)" font-size="7.4" text-anchor="middle" fill="#080808">1.0</text>
<text transform="translate(265.50,272.30) scale(0.9,1)" font-size="7.4" text-anchor="end" fill="#080808">0</text>
<text transform="translate(265.50,248.47) scale(0.9,1)" font-size="7.4" text-anchor="end" fill="#080808">5</text>
<text transform="translate(265.50,224.65) scale(0.9,1)" font-size="7.4" text-anchor="end" fill="#080808">10</text>
<text transform="translate(265.50,200.82) scale(0.9,1)" font-size="7.4" text-anchor="end" fill="#080808">15</text>
<text transform="translate(265.50,177.00) scale(0.9,1)" font-size="7.4" text-anchor="end" fill="#080808">20</text>
<path d="M352.8 266.50h3.0M352.8 257.40h1.6M352.8 248.30h3.0M352.8 239.20h1.6M352.8 230.10h3.0M352.8 221.00h1.6M352.8 211.90h3.0M352.8 202.80h1.6M352.8 193.70h3.0M352.8 184.60h1.6M352.8 175.50h3.0" stroke="#0606ff" stroke-width="1" fill="none"/>
<text transform="translate(357.20,268.20) scale(0.9,1)" font-size="7.4" fill="#0606ff">1.0</text>
<text transform="translate(357.20,250.00) scale(0.9,1)" font-size="7.4" fill="#0606ff">1.1</text>
<text transform="translate(357.20,231.80) scale(0.9,1)" font-size="7.4" fill="#0606ff">1.2</text>
<text transform="translate(357.20,213.60) scale(0.9,1)" font-size="7.4" fill="#0606ff">1.3</text>
<text transform="translate(357.20,195.40) scale(0.9,1)" font-size="7.4" fill="#0606ff">1.4</text>
<text transform="translate(357.20,177.20) scale(0.9,1)" font-size="7.4" fill="#0606ff">1.5</text>
<path d="M269.40 258.34L271.48 259.76L273.57 260.71L275.65 262.61L277.74 263.08L279.82 264.98L281.91 267.35L284.00 266.40L286.08 265.45L288.16 264.98L290.25 262.61L292.33 257.86L294.42 255.02L296.50 227.50L298.42 190.48L300.68 241.73L302.76 259.76L304.84 261.66L306.93 263.08L309.01 263.79L311.10 264.27L313.19 264.34L315.27 265.03L317.36 265.48L319.44 265.42L321.52 265.15L323.61 265.19L325.69 265.54L327.78 265.73L329.87 265.50L331.95 265.19L334.04 265.27L336.12 265.61L338.20 265.72L340.29 265.44L342.38 265.18L344.46 265.32L346.55 265.66L348.63 265.70L350.72 265.38L352.80 265.17" stroke="#0af60a" stroke-width="1.0" fill="none" stroke-linejoin="round"/>
<path d="M269.40 256.58L270.96 259.25H267.84Z" fill="#0af60a"/>
<path d="M271.48 258.01L273.04 260.67H269.92Z" fill="#0af60a"/>
<path d="M273.57 258.95L275.13 261.62H272.01Z" fill="#0af60a"/>
<path d="M275.65 260.85L277.21 263.52H274.09Z" fill="#0af60a"/>
<path d="M277.74 261.33L279.30 263.99H276.18Z" fill="#0af60a"/>
<path d="M279.82 263.23L281.38 265.89H278.26Z" fill="#0af60a"/>
<path d="M281.91 265.60L283.47 268.26H280.35Z" fill="#0af60a"/>
<path d="M284.00 264.65L285.56 267.31H282.44Z" fill="#0af60a"/>
<path d="M286.08 263.70L287.64 266.37H284.52Z" fill="#0af60a"/>
<path d="M288.16 263.23L289.72 265.89H286.60Z" fill="#0af60a"/>
<path d="M290.25 260.85L291.81 263.52H288.69Z" fill="#0af60a"/>
<path d="M292.33 256.11L293.89 258.77H290.77Z" fill="#0af60a"/>
<path d="M294.42 253.26L295.98 255.93H292.86Z" fill="#0af60a"/>
<path d="M296.50 225.74L298.06 228.41H294.94Z" fill="#0af60a"/>
<path d="M298.42 188.73L299.98 191.39H296.86Z" fill="#0af60a"/>
<path d="M300.68 239.97L302.24 242.64H299.12Z" fill="#0af60a"/>
<path d="M302.76 258.01L304.32 260.67H301.20Z" fill="#0af60a"/>
<path d="M304.84 259.90L306.40 262.57H303.28Z" fill="#0af60a"/>
<path d="M306.93 261.33L308.49 263.99H305.37Z" fill="#0af60a"/>
<path d="M309.01 262.04L310.57 264.70H307.45Z" fill="#0af60a"/>
<path d="M311.10 262.51L312.66 265.18H309.54Z" fill="#0af60a"/>
<path d="M313.19 262.59L314.75 265.25H311.62Z" fill="#0af60a"/>
<path d="M315.27 263.28L316.83 265.94H313.71Z" fill="#0af60a"/>
<path d="M317.36 263.73L318.92 266.39H315.80Z" fill="#0af60a"/>
<path d="M319.44 263.67L321.00 266.33H317.88Z" fill="#0af60a"/>
<path d="M321.52 263.40L323.08 266.06H319.96Z" fill="#0af60a"/>
<path d="M323.61 263.43L325.17 266.10H322.05Z" fill="#0af60a"/>
<path d="M325.69 263.78L327.25 266.45H324.13Z" fill="#0af60a"/>
<path d="M327.78 263.97L329.34 266.64H326.22Z" fill="#0af60a"/>
<path d="M329.87 263.74L331.43 266.41H328.31Z" fill="#0af60a"/>
<path d="M331.95 263.44L333.51 266.10H330.39Z" fill="#0af60a"/>
<path d="M334.04 263.51L335.60 266.18H332.48Z" fill="#0af60a"/>
<path d="M336.12 263.86L337.68 266.52H334.56Z" fill="#0af60a"/>
<path d="M338.20 263.97L339.76 266.63H336.64Z" fill="#0af60a"/>
<path d="M340.29 263.69L341.85 266.35H338.73Z" fill="#0af60a"/>
<path d="M342.38 263.42L343.94 266.09H340.81Z" fill="#0af60a"/>
<path d="M344.46 263.57L346.02 266.23H342.90Z" fill="#0af60a"/>
<path d="M346.55 263.91L348.11 266.57H344.99Z" fill="#0af60a"/>
<path d="M348.63 263.94L350.19 266.61H347.07Z" fill="#0af60a"/>
<path d="M350.72 263.62L352.28 266.29H349.16Z" fill="#0af60a"/>
<path d="M352.80 263.42L354.36 266.08H351.24Z" fill="#0af60a"/>
<path d="M269.40 266.50L276.07 266.50L276.81 266.50L277.55 266.48L278.29 266.45L279.03 266.37L279.76 266.26L280.50 266.08L281.24 265.83L281.98 265.50L282.72 265.07L283.46 264.55L284.19 263.90L284.93 263.12L285.67 262.21L286.41 261.14L287.15 259.90L287.89 258.49L288.62 256.90L289.36 255.10L290.10 253.09L290.84 250.86L291.58 248.40L292.32 245.69L293.05 242.72L293.79 239.48L294.53 235.96L295.27 232.14L296.01 228.02L296.75 223.59L297.48 218.82L298.22 213.72L298.89 265.04L352.80 266.50" stroke="#0606ff" stroke-width="1.55" fill="none" stroke-linejoin="round" stroke-dasharray="3.8 3"/>
<path d="M352.8 175.3V270.59999999999997" stroke="#0606ff" stroke-width="1.5" fill="none" stroke-linecap="square"/>
<text x="279" y="194.2" font-size="8.9" fill="#080808">(e)</text>
<text x="320.8" y="192.6" font-size="6.5" text-anchor="middle" fill="#0af60a">3µm,</text>
<text x="327.6" y="201.4" font-size="6.5" fill="#0af60a" text-anchor="middle"><tspan>9x10</tspan><tspan font-size="3.77" dy="-2.99">13</tspan><tspan dy="2.99" font-size="0.1">&#8203;</tspan><tspan>W/cm</tspan><tspan font-size="3.77" dy="-2.99">2</tspan><tspan dy="2.99" font-size="0.1">&#8203;</tspan></text>
<text x="311.6" y="294.6" font-size="8.7" text-anchor="middle" fill="#080808">Ellipticity ζ</text>
<text transform="translate(19.1,221) rotate(-90) scale(0.96,1)" font-size="9.3" text-anchor="middle" fill="#080808">Ratio (numerical)</text>
<text transform="translate(371.8,221.5) rotate(90) scale(0.96,1)" font-size="9.3" text-anchor="middle" fill="#0606ff">Ratio (estimated)</text>
</svg>
</body></html>
